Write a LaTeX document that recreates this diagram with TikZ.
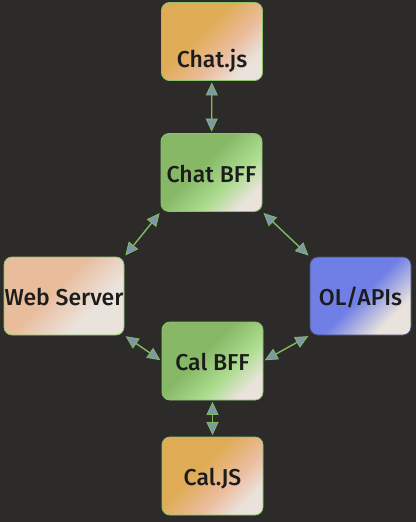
\documentclass[tikz,border=0pt]{standalone}
\usepackage{fontspec}
\setmainfont{Fira Sans}[UprightFont={* Medium}]
\usetikzlibrary{arrows.meta}
\definecolor{bg}{HTML}{2C2B2A}
\definecolor{edgegreen}{HTML}{8CC46C}
\definecolor{link}{HTML}{7FBB60}
\definecolor{tipfill}{HTML}{7F96A8}
\definecolor{ink}{HTML}{1C1C1C}
\definecolor{paper}{HTML}{EAE3DC}
\definecolor{jsA}{HTML}{DFAC55}
\definecolor{jsB}{HTML}{EBBD9E}
\definecolor{bffA}{HTML}{86B866}
\definecolor{bffB}{HTML}{ACDC8F}
\definecolor{wsA}{HTML}{E9BC9C}
\definecolor{olA}{HTML}{6F7FE6}
\pgfdeclarehorizontalshading{jsshade}{100bp}{color(0bp)=(jsA); color(42bp)=(jsA); color(60bp)=(jsB); color(74bp)=(paper); color(100bp)=(paper)}
\pgfdeclarehorizontalshading{bffshade}{100bp}{color(0bp)=(bffA); color(43bp)=(bffA); color(61bp)=(bffB); color(75bp)=(paper); color(100bp)=(paper)}
\pgfdeclarehorizontalshading{wsshade}{100bp}{color(0bp)=(wsA); color(44bp)=(wsA); color(65bp)=(paper); color(100bp)=(paper)}
\pgfdeclarehorizontalshading{olshade}{100bp}{color(0bp)=(olA); color(50bp)=(olA); color(71bp)=(paper); color(100bp)=(paper)}

\begin{document}
\begin{tikzpicture}[x=1pt,y=-1pt,
  box/.style={draw=edgegreen,line width=0.8pt,rounded corners=8pt,
    minimum width=101pt,minimum height=78pt,inner sep=0pt,
    font=\fontsize{23}{27}\selectfont,text=ink,
    text height=24.8pt,text depth=5pt,shading angle=-45}]
\fill[bg] (0,0) rectangle (416,522);
\node[box,shading=jsshade,text height=57.8pt] (chatjs) at (212,41.5) {Chat.js};
\node[box,shading=bffshade] (chatbff) at (211.5,172.5) {Chat BFF};
\node[box,shading=wsshade,minimum width=120pt] (web) at (64,296) {Web Server};
\node[box,shading=olshade,draw=bg!60!olA] (ol) at (360.5,296) {OL/APIs};
\node[box,shading=bffshade] (calbff) at (212.5,361) {Cal BFF};
\node[box,shading=jsshade] (caljs) at (212.5,476) {Cal.JS};
\path[<->,color=link,line width=1.4pt,
  >={Triangle[length=13pt,width=12pt,fill=tipfill,line width=0.8pt]},
  shorten <=1.5pt,shorten >=1.5pt]
(chatjs) edge (chatbff)
(chatbff.south west) edge (web.north east)
(chatbff.south east) edge (ol.north west)
(web.south east) edge (calbff.west)
(calbff.east) edge (ol.south west)
(calbff) edge (caljs);
\end{tikzpicture}
\end{document}
